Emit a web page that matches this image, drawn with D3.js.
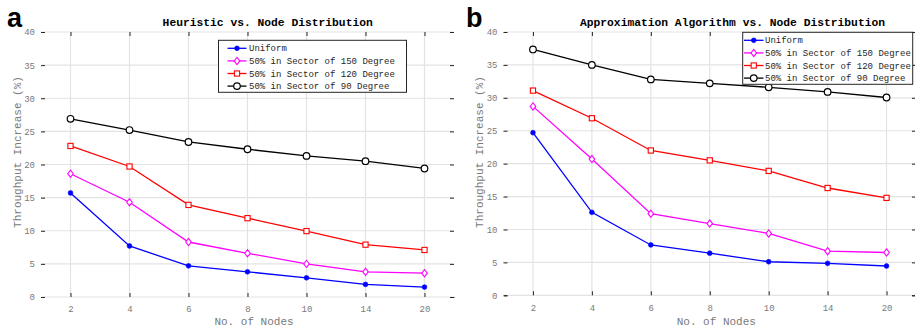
<!DOCTYPE html>
<html><head><meta charset="utf-8">
<script src="https://cdn.jsdelivr.net/npm/d3@7"></script>
<style>
html,body{margin:0;padding:0;background:#fff;overflow:hidden}
svg{display:block}
</style></head>
<body>
<svg id="c" width="915" height="329"></svg>
<script>
const nodes = ["2","4","6","8","10","14","20"];
const seriesNames = ["Uniform","50% in Sector of 150 Degree","50% in Sector of 120 Degree","50% in Sector of 90 Degree"];
const yTicks = [0,5,10,15,20,25,30,35,40];

const heurUniform = [15.7, 7.7, 4.7, 3.8, 2.9, 1.9, 1.5];
const heur150     = [18.6, 14.3, 8.3, 6.6, 5.0, 3.8, 3.6];
const heur120     = [22.8, 19.7, 13.9, 11.9, 9.95, 7.9, 7.1];
const heur90      = [26.9, 25.2, 23.4, 22.3, 21.3, 20.5, 19.4];

const apprUniform = [24.7, 12.6, 7.65, 6.4, 5.1, 4.85, 4.45];
const appr150     = [28.7, 20.7, 12.4, 10.9, 9.4, 6.7, 6.5];
const appr120     = [31.1, 26.9, 22.0, 20.5, 18.9, 16.3, 14.8];
const appr90      = [37.35, 35.0, 32.8, 32.2, 31.6, 30.9, 30.05];

const colors = ["#0000ff","#ff00ff","#ff0000","#000000"];
const markers = ["dot","diamond","square","circle"];

const svg = d3.select("#c");
const mono = "'Liberation Mono', 'DejaVu Sans Mono', monospace";

function drawMarker(g, type, x, y, color){
  if(type==="dot"){
    g.append("circle").attr("cx",x).attr("cy",y).attr("r",2.4).attr("fill",color).attr("stroke",color).attr("stroke-width",0.6);
  } else if(type==="diamond"){
    g.append("path").attr("d",`M${x},${y-3.6}L${x+2.8},${y}L${x},${y+3.6}L${x-2.8},${y}Z`)
      .attr("fill","#fff").attr("stroke",color).attr("stroke-width",1.1);
  } else if(type==="square"){
    g.append("rect").attr("x",x-2.6).attr("y",y-2.6).attr("width",5.2).attr("height",5.2)
      .attr("fill","#fff").attr("stroke",color).attr("stroke-width",1.1);
  } else {
    g.append("circle").attr("cx",x).attr("cy",y).attr("r",3.3).attr("fill","#fff").attr("stroke",color).attr("stroke-width",1.2);
  }
}

function panel(cfg){
  const {left,right,top,bottom,data,title,titleX,letter,letterX,xLabelX,yLabelX,yLabelY,legend} = cfg;
  const g = svg.append("g");
  const x = d3.scalePoint().domain(nodes).range([left,right]).padding(0.5);
  const y = d3.scaleLinear().domain([0,40]).range([bottom,top]);

  // grid
  g.append("g").selectAll("line.v").data(nodes).join("line")
    .attr("x1",d=>x(d)).attr("x2",d=>x(d)).attr("y1",top).attr("y2",bottom)
    .attr("stroke","#e3e3e3").attr("stroke-width",1.2);
  g.append("g").selectAll("line.h").data(yTicks).join("line")
    .attr("x1",left).attr("x2",right).attr("y1",d=>y(d)).attr("y2",d=>y(d))
    .attr("stroke","#e3e3e3").attr("stroke-width",1.2);

  // axes (ticks inward, MATLAB style)
  const axL = d3.axisLeft(y).tickValues(yTicks).tickSize(-4).tickPadding(6).tickFormat(d3.format("d"));
  const axR = d3.axisRight(y).tickValues(yTicks).tickSize(-4).tickFormat("");
  const axB = d3.axisBottom(x).tickSize(-4).tickPadding(9);
  const axT = d3.axisTop(x).tickSize(-4).tickFormat("");
  const style = sel=>{
    sel.select(".domain").attr("stroke","#262626").attr("stroke-width",1.1);
    sel.selectAll(".tick line").attr("stroke","#262626").attr("stroke-width",1);
    sel.selectAll(".tick text").attr("fill","#7a7a7a").style("font-family",mono).style("font-size","9px");
  };
  g.append("g").attr("transform",`translate(${left},0)`).call(axL).call(style);
  g.append("g").attr("transform",`translate(${right},0)`).call(axR).call(style);
  g.append("g").attr("transform",`translate(0,${bottom})`).call(axB).call(style);
  g.append("g").attr("transform",`translate(0,${top})`).call(axT).call(style);
  g.selectAll(".domain").attr("d",function(){return d3.select(this).attr("d").replace(/V-?\d+(\.\d+)?H/g,"H").replace(/H-?\d+(\.\d+)?V/g,"V");});

  // series
  const line = d3.line().x((d,i)=>x(nodes[i])).y(d=>y(d));
  data.forEach((vals,si)=>{
    g.append("path").datum(vals).attr("d",line).attr("fill","none")
      .attr("stroke",colors[si]).attr("stroke-width",1.3);
  });
  data.forEach((vals,si)=>{
    const mg = g.append("g");
    vals.forEach((v,i)=>drawMarker(mg, markers[si], x(nodes[i]), y(v), colors[si]));
  });

  // legend
  const lg = g.append("g");
  lg.append("rect").attr("x",legend.x).attr("y",legend.y).attr("width",legend.w).attr("height",legend.h)
    .attr("fill","#fff").attr("stroke","#262626").attr("stroke-width",1);
  seriesNames.forEach((name,i)=>{
    const ry = legend.y + legend.row0 + i*legend.dy;
    lg.append("line").attr("x1",legend.lx1).attr("x2",legend.lx2).attr("y1",ry).attr("y2",ry)
      .attr("stroke",colors[i]).attr("stroke-width",1.3);
    drawMarker(lg, markers[i], (legend.lx1+legend.lx2)/2, ry, colors[i]);
    lg.append("text").attr("x",legend.tx).attr("y",ry+3).text(name)
      .attr("fill","#262626").style("font-family",mono).style("font-size","9px");
  });

  // title
  g.append("text").attr("x",titleX).attr("y",26).attr("text-anchor","middle").text(title)
    .attr("fill","#000").style("font-family",mono).style("font-size","11.3px").style("font-weight","bold");
  // letter
  g.append("text").attr("x",letterX).attr("y",27).text(letter)
    .attr("fill","#000").style("font-family","'Liberation Sans', Arial, sans-serif").style("font-size","27px").style("font-weight","bold");
  // axis labels
  g.append("text").attr("x",xLabelX).attr("y",325).attr("text-anchor","middle").text("No. of Nodes")
    .attr("fill","#7a7a7a").style("font-family",mono).style("font-size","11px");
  g.append("text").attr("transform",`translate(${yLabelX},${yLabelY}) rotate(-90)`).attr("text-anchor","middle")
    .text("Throughput Increase (%)").attr("fill","#7a7a7a").style("font-family",mono).style("font-size","11px");
}

panel({left:41,right:454,top:32,bottom:297,
  data:[heurUniform,heur150,heur120,heur90],
  title:"Heuristic vs. Node Distribution", titleX:267.7, letter:"a", letterX:7,
  xLabelX:254, yLabelX:21, yLabelY:152,
  legend:{x:218.5,y:40.3,w:188,h:52,row0:8,dy:12.6,lx1:227.5,lx2:246.5,tx:249}});

panel({left:503.5,right:916,top:32,bottom:295.3,
  data:[apprUniform,appr150,appr120,appr90],
  title:"Approximation Algorithm vs. Node Distribution", titleX:732.5, letter:"b", letterX:466,
  xLabelX:716.3, yLabelX:483, yLabelY:152,
  legend:{x:742.7,y:32.3,w:170,h:52,row0:8,dy:12.6,lx1:744,lx2:763.5,tx:765}});
</script>
</body></html>
